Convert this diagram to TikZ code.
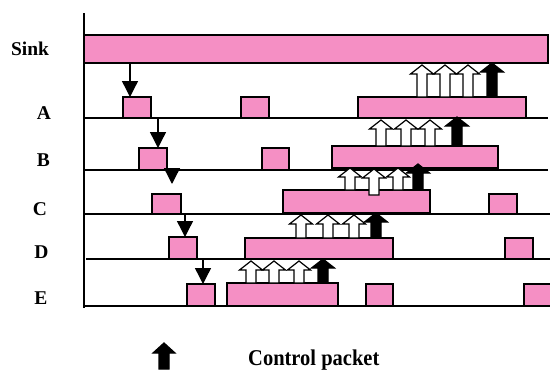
\documentclass[tikz,border=0pt]{standalone}
\usepackage{fontspec}
\setmainfont{Liberation Serif}
\usetikzlibrary{arrows.meta}
\definecolor{pk}{RGB}{245,143,196}
\tikzset{
 slot/.style={draw=black, fill=pk, line width=1.2pt, inner sep=0pt, outer sep=0pt, anchor=south west},
 rowline/.style={line width=1.4pt},
 down/.style={line width=1.4pt, -{Triangle[width=16pt,length=16pt]}},
 lab/.style={font=\fontsize{19.5}{22}\selectfont\bfseries, anchor=base, inner sep=0pt},
 hollow/.style={draw=black, fill=white, line width=1.2pt, line join=miter},
 solidarr/.style={draw=black, fill=black, line width=1.2pt, line join=miter},
}
\newcommand{\blockarrow}[4]{%
 \draw[#1] (#2-5,#3) -- (#2-5,#4+9) -- (#2-11.5,#4+9) -- (#2,#4) -- (#2+11.5,#4+9) -- (#2+5,#4+9) -- (#2+5,#3) -- cycle;}
\begin{document}
\begin{tikzpicture}[x=1pt,y=-1pt]
\useasboundingbox (0,0) rectangle (550,370);
\clip (0,0) rectangle (550,370);
% labels
\node[lab] (lsink) at (30,55) {Sink};
\node[lab] (la) at (44,119) {A};
\node[lab] (lb) at (43.5,166) {B};
\node[lab] (lc) at (40,215) {C};
\node[lab] (ld) at (41.5,258) {D};
\node[lab] (le) at (41,304) {E};
% axis and row lines
\draw[rowline] (84,13) -- (84,308);
\draw[rowline] (84,118) -- (548,118);
\draw[rowline] (84,170) -- (548,170);
\draw[rowline] (84,214) -- (550,214);
\draw[rowline] (86,259) -- (550,259);
\draw[rowline] (84,306) -- (550,306);
% sink
\node[slot, minimum width=464pt, minimum height=28pt] (sink) at (84,63) {};
% row A
\node[slot, minimum width=28pt, minimum height=21pt] (a1) at (123,118) {};
\node[slot, minimum width=28pt, minimum height=21pt] (a2) at (241,118) {};
\node[slot, minimum width=168pt, minimum height=21pt] (a3) at (358,118) {};
% row B
\node[slot, minimum width=28pt, minimum height=22pt] (b1) at (139,170) {};
\node[slot, minimum width=27pt, minimum height=22pt] (b2) at (262,170) {};
\node[slot, minimum width=166pt, minimum height=22pt] (b3) at (332,168) {};
% row C
\node[slot, minimum width=29pt, minimum height=20pt] (c1) at (152,214) {};
\node[slot, minimum width=147pt, minimum height=23pt] (c3) at (283,213) {};
\node[slot, minimum width=28pt, minimum height=20pt] (c4) at (489,214) {};
% row D
\node[slot, minimum width=28pt, minimum height=22pt] (d1) at (169,259) {};
\node[slot, minimum width=148pt, minimum height=21pt] (d3) at (245,259) {};
\node[slot, minimum width=28pt, minimum height=21pt] (d4) at (505,259) {};
% row E
\node[slot, minimum width=28pt, minimum height=22pt] (e1) at (187,306) {};
\node[slot, minimum width=111pt, minimum height=23pt] (e3) at (227,306) {};
\node[slot, minimum width=27pt, minimum height=22pt] (e4) at (366,306) {};
\node[slot, minimum width=30pt, minimum height=22pt] (e5) at (524,306) {};
% up block arrows: sink row
\blockarrow{hollow}{422}{97}{65}
\blockarrow{hollow}{445}{97}{65}
\blockarrow{hollow}{468}{97}{65}
\blockarrow{solidarr}{492}{97}{63}
% A row
\blockarrow{hollow}{381}{146}{120}
\blockarrow{hollow}{406}{146}{120}
\blockarrow{hollow}{430}{146}{120}
\blockarrow{solidarr}{457}{146}{117}
% B row
\blockarrow{hollow}{350}{190}{168}
\blockarrow{hollow}{374}{195}{169}
\blockarrow{hollow}{398}{190}{168}
\blockarrow{solidarr}{418}{190}{164}
% C row
\blockarrow{hollow}{301}{238}{215}
\blockarrow{hollow}{328}{238}{215}
\blockarrow{hollow}{354}{238}{215}
\blockarrow{solidarr}{376}{238}{213}
% D row
\blockarrow{hollow}{251}{283}{261}
\blockarrow{hollow}{274}{283}{261}
\blockarrow{hollow}{299}{283}{261}
\blockarrow{solidarr}{323}{283}{259}
% down arrows
\coordinate (bcend) at (172,184);
\draw[down] (sink.south -| 130,0) -- (a1.north -| 130,0);
\draw[down] (a1.south -| 158,0) -- (b1.north -| 158,0);
\draw[down] (b1.south -| 172,0) -- (bcend);
\draw[down] (c1.south -| 185,0) -- (d1.north -| 185,0);
\draw[down] (d1.south -| 203,0) -- (e1.north -| 203,0);
% legend
\draw[solidarr] (159,369) -- (159,353) -- (153,353) -- (164,343) -- (175,353) -- (169,353) -- (169,369) -- cycle;
\node[font=\fontsize{20.5}{24}\selectfont\bfseries, anchor=base west, inner sep=0pt] (leg) at (248,365) {\scalebox{1}[1.1]{Control packet}};
\end{tikzpicture}
\end{document}
